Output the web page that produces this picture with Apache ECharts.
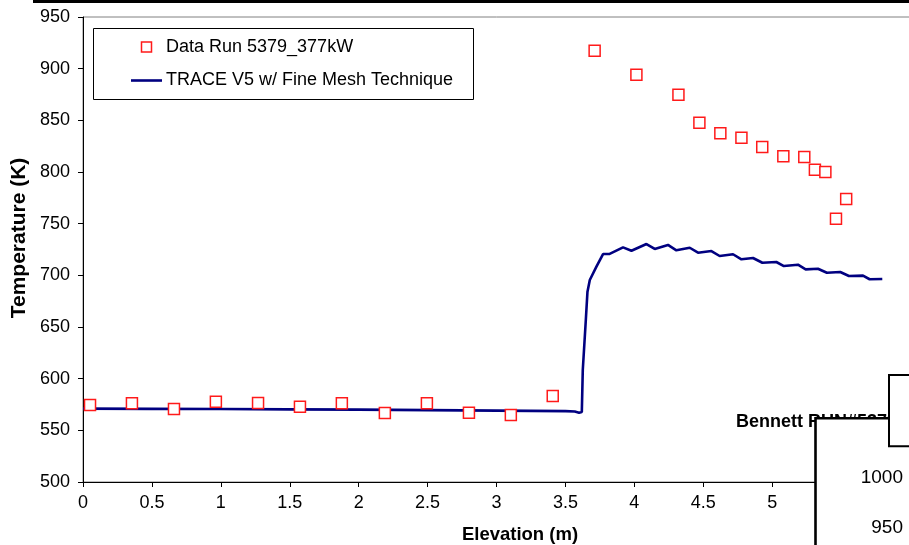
<!DOCTYPE html>
<html>
<head>
<meta charset="utf-8">
<title>Temperature vs Elevation</title>
<script src="https://cdn.jsdelivr.net/npm/echarts@6/dist/echarts.min.js"></script>
<style>
  html, body { margin: 0; padding: 0; background: #fff; }
  #chart { width: 909px; height: 545px; }
</style>
</head>
<body>
<div id="chart"></div>
<script>
// Measured thermocouple temperatures, run 5379 at 377 kW
const runElevation = [0.051, 0.355, 0.66, 0.964, 1.27, 1.574, 1.878, 2.19, 2.495, 2.8, 3.104, 3.408,
  3.712, 4.015, 4.320, 4.472, 4.624, 4.777, 4.928, 5.081, 5.233, 5.310, 5.386, 5.463, 5.537];
const runTemp = [574.5, 576.2, 570.7, 577.7, 576.5, 572.9, 576.2, 566.8, 576.2, 567.1, 564.9, 583.3,
  917.4, 894.2, 874.8, 847.7, 837.5, 833.2, 824.2, 815.2, 814.5, 802.2, 800.0, 754.8, 773.9];

// TRACE V5 prediction with the fine mesh technique
const traceElevation = [0, 0.5, 1, 1.5, 2, 2.5, 3, 3.5, 3.568, 3.599, 3.619, 3.626, 3.648, 3.660, 3.677,
  3.725, 3.773, 3.817, 3.918, 3.979, 4.088, 4.148, 4.244, 4.305, 4.402, 4.462, 4.559, 4.619, 4.716,
  4.777, 4.861, 4.929, 5.030, 5.085, 5.187, 5.243, 5.332, 5.397, 5.494, 5.557, 5.659, 5.707, 5.799];
const traceTemp = [571.0, 570.8, 570.6, 570.3, 570.0, 569.6, 569.1, 568.6, 568.2, 567.1, 567.7, 608.4,
  656.8, 684.2, 695.5, 708.4, 720.6, 720.6, 727.1, 723.8, 730.3, 725.5, 729.4, 724.2, 726.7, 721.9,
  723.5, 718.7, 720.4, 715.5, 716.8, 712.2, 712.9, 709.0, 710.3, 705.8, 706.4, 702.5, 703.2, 699.4,
  699.7, 696.2, 696.5];

const seriesNames = ['Data Run 5379_377kW', 'TRACE V5 w/ Fine Mesh Technique'];
const xTitle = 'Elevation (m)';
const yTitle = 'Temperature (K)';

const FONT = '"Liberation Sans", Arial, sans-serif';

const chart = echarts.init(document.getElementById('chart'), null, { renderer: 'canvas' });

const option = {
  backgroundColor: '#ffffff',
  animation: false,
  grid: {
    left: 83, top: 17, width: 827, height: 465,
    containLabel: false, outerBoundsMode: 'none',
    show: true, borderColor: '#808080', borderWidth: 1, backgroundColor: 'transparent'
  },
  xAxis: {
    type: 'value', min: 0, max: 6, interval: 0.5,
    axisLine: { show: true, onZero: false, lineStyle: { color: '#000', width: 1 } },
    axisTick: { show: true, inside: false, length: 5, lineStyle: { color: '#000' } },
    axisLabel: { color: '#000', fontFamily: FONT, fontSize: 18, margin: 12 },
    splitLine: { show: false }
  },
  yAxis: {
    type: 'value', min: 500, max: 950, interval: 50,
    axisLine: { show: true, lineStyle: { color: '#000', width: 1 } },
    axisTick: { show: true, inside: false, length: 5, lineStyle: { color: '#000' } },
    axisLabel: { color: '#000', fontFamily: FONT, fontSize: 18, margin: 13 },
    splitLine: { show: false }
  },
  series: [
    {
      name: seriesNames[1], type: 'line',
      data: traceElevation.map((x, i) => [x, traceTemp[i]]),
      showSymbol: false, smooth: false,
      lineStyle: { color: '#000080', width: 2.6 },
      z: 2
    },
    {
      name: seriesNames[0], type: 'scatter',
      data: runElevation.map((x, i) => [x, runTemp[i]]),
      symbol: 'rect', symbolSize: 11,
      itemStyle: { color: '#ffffff', borderColor: '#ff1a1a', borderWidth: 1.5, opacity: 1 },
      z: 3
    }
  ],
  graphic: [
    // frame rule along the top edge
    { type: 'rect', shape: { x: 33, y: 0, width: 876, height: 3 }, style: { fill: '#000' }, z: 50 },
    // axis titles
    { type: 'text', x: 520, y: 535, z: 50,
      style: { text: xTitle, font: 'bold 18.5px ' + FONT, fill: '#000', align: 'center', verticalAlign: 'middle' } },
    { type: 'text', x: 19, y: 238, rotation: Math.PI / 2, z: 50,
      style: { text: yTitle, font: 'bold 21px ' + FONT, fill: '#000', align: 'center', verticalAlign: 'middle' } },
    // legend
    { type: 'rect', shape: { x: 93.5, y: 28.5, width: 380, height: 71 },
      style: { fill: '#fff', stroke: '#000', lineWidth: 1 }, z: 60 },
    { type: 'rect', shape: { x: 141.5, y: 42, width: 10, height: 10 },
      style: { fill: '#fff', stroke: '#ff1a1a', lineWidth: 1.5 }, z: 61 },
    { type: 'text', x: 166, y: 47, z: 61,
      style: { text: seriesNames[0], font: '18px ' + FONT, fill: '#000', verticalAlign: 'middle' } },
    { type: 'line', shape: { x1: 131, y1: 80.5, x2: 162, y2: 80.5 },
      style: { stroke: '#000080', lineWidth: 2.6 }, z: 61 },
    { type: 'text', x: 166, y: 80, z: 61,
      style: { text: seriesNames[1], font: '18px ' + FONT, fill: '#000', verticalAlign: 'middle' } },
    // neighbouring chart panel overlapping the corner
    { type: 'text', x: 736, y: 422.5, z: 70,
      style: { text: 'Bennett RUN#5379_377kW', font: 'bold 18px ' + FONT, fill: '#000', verticalAlign: 'middle' } },
    { type: 'rect', shape: { x: 815.5, y: 418.3, width: 120, height: 140 },
      style: { fill: '#fff', stroke: '#000', lineWidth: 2.6 }, z: 71 },
    { type: 'text', x: 903, y: 478, z: 72,
      style: { text: '1000', font: '19px ' + FONT, fill: '#000', align: 'right', verticalAlign: 'middle' } },
    { type: 'text', x: 903, y: 528, z: 72,
      style: { text: '950', font: '19px ' + FONT, fill: '#000', align: 'right', verticalAlign: 'middle' } },
    { type: 'rect', shape: { x: 889, y: 375, width: 40, height: 71.3 },
      style: { fill: '#fff', stroke: '#000', lineWidth: 2 }, z: 73 }
  ]
};

chart.setOption(option);
</script>
</body>
</html>
